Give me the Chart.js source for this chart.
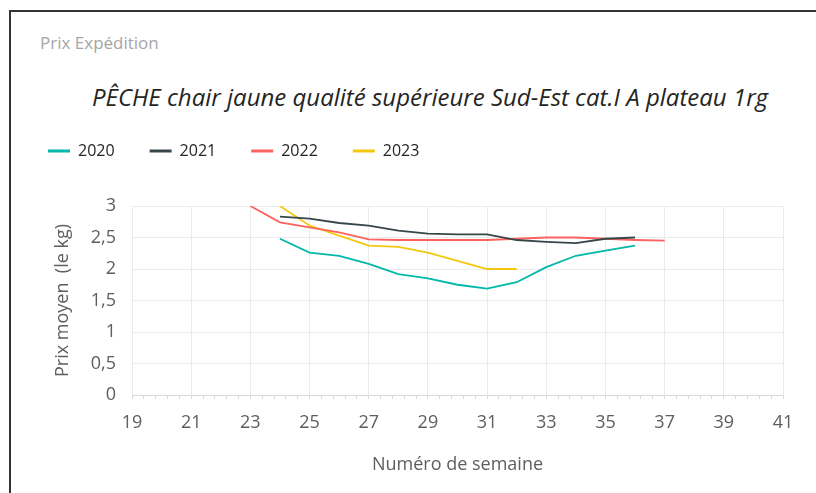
<!DOCTYPE html>
<html>
<head>
<meta charset="utf-8">
<script src="https://cdn.jsdelivr.net/npm/chart.js@4.4.0/dist/chart.umd.min.js"></script>
<style>
  body { margin: 0; background: #fff; width: 816px; height: 493px; overflow: hidden; position: relative; font-family: "Open Sans", sans-serif; }
  .frame { position: absolute; left: 9px; top: 10px; width: 900px; height: 600px; border-top: 2px solid #333; border-left: 2px solid #333; }
  .head { position: absolute; left: 40px; top: 31px; font-size: 17px; color: #a6a6a6; }
  .title { position: absolute; left: 0; width: 860px; top: 80px; text-align: center; font-size: 24px; font-style: italic; color: #252423; }
  #wrap { position: absolute; left: 0; top: 108px; width: 816px; height: 385px; }
</style>
</head>
<body>
<div class="frame"></div>
<div class="head">Prix Expédition</div>
<div class="title">PÊCHE chair jaune qualité supérieure Sud-Est cat.I A plateau 1rg</div>
<div id="wrap"><canvas id="peche"></canvas></div>
<script>
// semaines et prix moyens (€/kg)
var weeks2020 = [24, 25, 26, 27, 28, 29, 30, 31, 32, 33, 34, 35, 36];
var prix2020 = [2.48, 2.26, 2.21, 2.08, 1.92, 1.85, 1.75, 1.69, 1.79, 2.03, 2.21, 2.29, 2.37];
var weeks2021 = [24, 25, 26, 27, 28, 29, 30, 31, 32, 33, 34, 35, 36];
var prix2021 = [2.83, 2.80, 2.73, 2.69, 2.61, 2.56, 2.55, 2.55, 2.46, 2.43, 2.41, 2.48, 2.50];
var weeks2022 = [23, 24, 25, 26, 27, 28, 29, 30, 31, 32, 33, 34, 35, 36, 37];
var prix2022 = [3.00, 2.74, 2.66, 2.58, 2.47, 2.46, 2.46, 2.46, 2.46, 2.48, 2.50, 2.50, 2.48, 2.46, 2.45];
var weeks2023 = [24, 25, 26, 27, 28, 29, 30, 31, 32];
var prix2023 = [3.00, 2.69, 2.53, 2.37, 2.35, 2.26, 2.13, 2.00, 2.00];

var years = ['2020', '2021', '2022', '2023'];
var colors = ['#01B8AA', '#374649', '#FD625E', '#F2C80F'];

function pts(w, p) {
    return w.map(function (x, i) { return {x: x, y: p[i]}; });
}
var series = [pts(weeks2020, prix2020), pts(weeks2021, prix2021), pts(weeks2022, prix2022), pts(weeks2023, prix2023)];

var isOddInt = function (v) {
    var r = Math.round(v);
    return Math.abs(v - r) < 1e-6 && r % 2 === 1;
};

var legendGap = {
    id: 'legendGap',
    beforeInit: function (chart) {
        var fit = chart.legend.fit;
        chart.legend.fit = function () {
            fit.call(this);
            this.height += 37;
        };
    }
};

var ctx = document.getElementById('peche').getContext('2d');
var chart = new Chart(ctx, {
    type: 'line',
    data: {
        datasets: years.map(function (y, i) {
            return {
                label: y,
                data: series[i],
                borderColor: colors[i],
                backgroundColor: colors[i],
                borderWidth: 1.8,
                pointRadius: 0,
                tension: 0
            };
        })
    },
    options: {
        responsive: true,
        maintainAspectRatio: false,
        animation: false,
        layout: { padding: { left: 13, right: 33, top: 0, bottom: 0 } },
        plugins: {
            tooltip: { enabled: false },
            legend: {
                position: 'top',
                align: 'start',
                labels: {
                    boxWidth: 22,
                    boxHeight: 3,
                    padding: 35,
                    color: '#252423',
                    font: { family: 'Open Sans', size: 16 },
                    generateLabels: function (chart) {
                        var items = Chart.defaults.plugins.legend.labels.generateLabels(chart);
                        items.forEach(function (it) { it.lineWidth = 0; });
                        return items;
                    }
                }
            }
        },
        scales: {
            x: {
                type: 'linear',
                min: 19,
                max: 41,
                afterBuildTicks: function (scale) {
                    var t = [];
                    for (var k = 0; k <= 55; k++) t.push({value: 19 + k * 0.4});
                    scale.ticks = t;
                },
                afterFit: function (scale) { scale.height = 98; },
                grid: {
                    color: function (c) { return c.tick && isOddInt(c.tick.value) ? '#ebebeb' : 'rgba(0,0,0,0)'; },
                    tickColor: '#d9d9d9',
                    tickLength: 4,
                    drawTicks: true
                },
                border: { color: '#d9d9d9' },
                ticks: {
                    autoSkip: false,
                    maxRotation: 0,
                    padding: 13,
                    color: '#605e5c',
                    font: { family: 'Open Sans', size: 18 },
                    callback: function (v) { return isOddInt(v) ? String(Math.round(v)) : ''; }
                },
                title: {
                    display: true,
                    text: 'Numéro de semaine',
                    color: '#605e5c',
                    font: { family: 'Open Sans', size: 18 },
                    padding: { top: 0, bottom: 17 }
                }
            },
            y: {
                min: 0,
                max: 3,
                afterFit: function (scale) { scale.width = 119; },
                grid: { color: '#ebebeb', drawTicks: false },
                border: { display: false },
                ticks: {
                    stepSize: 0.5,
                    padding: 16,
                    color: '#605e5c',
                    font: { family: 'Open Sans', size: 18 },
                    callback: function (v) { return String(v).replace('.', ','); }
                },
                title: {
                    display: true,
                    text: 'Prix moyen  (le kg)',
                    color: '#605e5c',
                    font: { family: 'Open Sans', size: 18 },
                    padding: { top: 39, bottom: 0 }
                }
            }
        }
    },
    plugins: [legendGap]
});
</script>
</body>
</html>
